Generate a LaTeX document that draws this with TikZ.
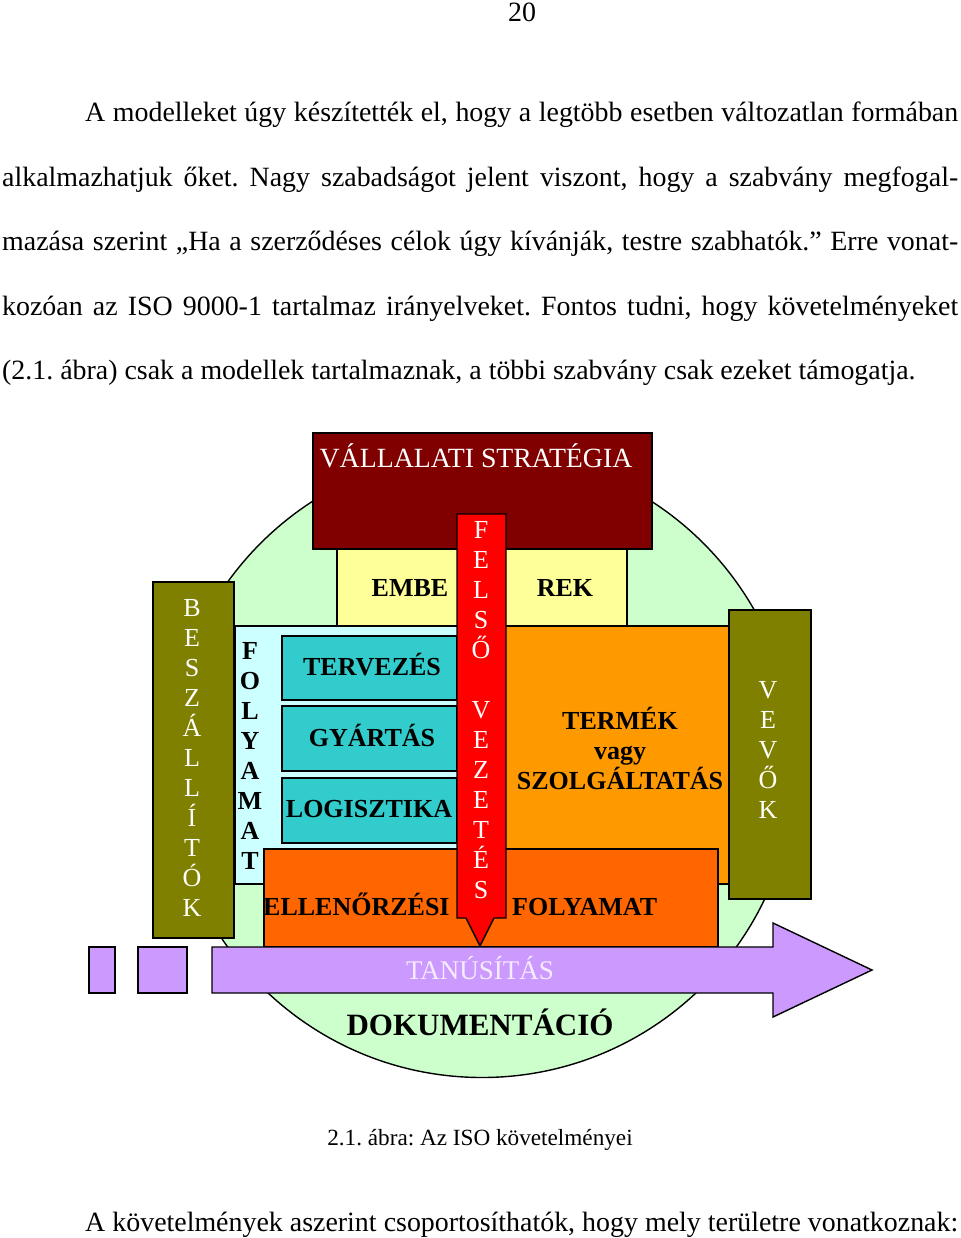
\documentclass[tikz,border=0pt]{standalone}
\usepackage{fontspec}
\setmainfont{Liberation Serif}
\frenchspacing
\definecolor{cgreen}{HTML}{CCFFCC}
\definecolor{strat}{HTML}{800000}
\definecolor{cyel}{HTML}{FFFF99}
\definecolor{ccyan}{HTML}{CCFFFF}
\definecolor{cteal}{HTML}{33CCCC}
\definecolor{corange}{HTML}{FF9900}
\definecolor{cdorange}{HTML}{FF6600}
\definecolor{colive}{HTML}{808000}
\definecolor{cred}{HTML}{FF0000}
\definecolor{cpurple}{HTML}{CC99FF}
\definecolor{cpale}{HTML}{F6ECFF}
\begin{document}
\begin{tikzpicture}[x=1pt,y=-1pt,
  bx/.style={draw=black,line width=1.4pt},
  wl/.style={text=white,font=\fontsize{26}{30}\selectfont,anchor=base,inner sep=0pt},
  bl/.style={text=black,font=\fontsize{26}{30}\selectfont\bfseries,anchor=base,inner sep=0pt},
  body/.style={font=\fontsize{27.9}{30}\selectfont,anchor=base west,inner sep=0pt},
]
\useasboundingbox (0,0) rectangle (960,1238);
\fill[white] (0,0) rectangle (960,1238);

% body text
\node[body,anchor=base] (pnum) at (522,22) {20};
\node[body] (l1) at (85,122) {\makebox[873pt][s]{A modelleket úgy készítették el, hogy a legtöbb esetben változatlan formában}};
\node[body] (l2) at (2,187) {\makebox[956pt][s]{alkalmazhatjuk őket. Nagy szabadságot jelent viszont, hogy a szabvány megfogal-}};
\node[body] (l3) at (2,251) {\makebox[956pt][s]{mazása szerint „Ha a szerződéses célok úgy kívánják, testre szabhatók.” Erre vonat-}};
\node[body] (l4) at (2,315) {\makebox[956pt][s]{kozóan az ISO 9000-1 tartalmaz irányelveket. Fontos tudni, hogy követelményeket}};
\node[body] (l5) at (2,379) {(2.1. ábra) csak a modellek tartalmaznak, a többi szabvány csak ezeket támogatja.};
\node[body,anchor=base,font=\fontsize{23.2}{26}\selectfont] (cap) at (480,1145) {2.1. ábra: Az ISO követelményei};
\node[body] (l6) at (85,1231) {\makebox[873pt][s]{A követelmények aszerint csoportosíthatók, hogy mely területre vonatkoznak:}};

% diagram shapes
\draw[bx,fill=cgreen] (482,764.5) circle[radius=313pt];
\draw[bx,fill=strat] (313,433) rectangle (652,549);
\draw[bx,fill=cyel] (337,549) rectangle (627,626);
\draw[bx,fill=ccyan] (235,626) rectangle (475,884);
\draw[bx,fill=cteal] (282,636) rectangle (457,700);
\draw[bx,fill=cteal] (282,706) rectangle (457,771);
\draw[bx,fill=cteal] (282,778) rectangle (457,843);
\draw[bx,fill=corange] (500,626) rectangle (735,884);
\draw[bx,fill=cdorange] (264,849) rectangle (718,947);
\draw[bx,fill=colive] (153,582) rectangle (234,938);
\draw[bx,fill=colive] (729,610) rectangle (811,899);

% labels under the arrow
\node[wl,font=\fontsize{27.8}{30}\selectfont] (strategia) at (476,467) {VÁLLALATI STRATÉGIA};
\node[bl] (embe) at (410,596) {EMBE};
\node[bl] (rek) at (565,596) {REK};
\node[bl] (terv) at (372,675) {TERVEZÉS};
\node[bl] (gyart) at (372,746) {GYÁRTÁS};
\node[bl] (logi) at (369,817) {LOGISZTIKA};
\node[bl] (termek) at (620,729) {TERMÉK};
\node[bl] (vagy) at (620,759) {vagy};
\node[bl] (szolg) at (620,789) {SZOLGÁLTATÁS};
\node[bl,anchor=base west] (ell) at (263,915) {ELLENŐRZÉSI};
\node[bl,anchor=base west] (foly) at (512,915) {FOLYAMAT};

\foreach \l [count=\i from 0] in {B,E,S,Z,Á,L,L,Í,T,Ó,K}
  \node[wl] (besz\i) at (192,616+30*\i) {\l};
\foreach \l [count=\i from 0] in {V,E,V,Ő,K}
  \node[wl] (vevo\i) at (768,698+30*\i) {\l};
\foreach \l [count=\i from 0] in {F,O,L,Y,A,M,A,T}
  \node[bl] (folyl\i) at (250,659+30*\i) {\l};

% red arrow
\draw[bx,fill=cred] (457,514) -- (506,514) -- (506,918) -- (494,918) -- (491,924)
  -- (480,946) -- (469,924) -- (466,918) -- (457,918) -- cycle;
\foreach \l [count=\i from 0] in {F,E,L,S,Ő,{},V,E,Z,E,T,É,S}
  \node[wl] (felso\i) at (481,538+30*\i) {\l};

% purple arrow and squares
\draw[bx,fill=cpurple] (212,947) -- (773,947) -- (773,923) -- (872,970)
  -- (773,1017) -- (773,993) -- (212,993) -- cycle;
\draw[bx,fill=cpurple] (89,947) rectangle (115,993);
\draw[bx,fill=cpurple] (138,947) rectangle (187,993);
\node[wl,text=cpale,font=\fontsize{27}{30}\selectfont] (tanu) at (480,979) {TANÚSÍTÁS};
\node[bl,font=\fontsize{31}{34}\selectfont\bfseries] (doku) at (480,1035) {DOKUMENTÁCIÓ};
\end{tikzpicture}
\end{document}
